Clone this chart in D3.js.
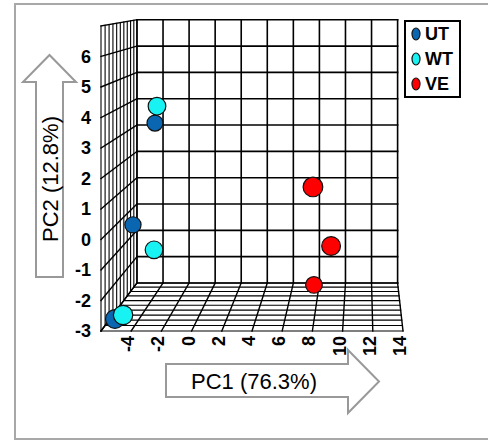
<!DOCTYPE html>
<html>
<head>
<meta charset="utf-8">
<script src="https://cdn.jsdelivr.net/npm/d3@7"></script>
<style>
  html, body { margin: 0; padding: 0; background: #fff; }
  svg { display: block; font-family: "Liberation Sans", Arial, sans-serif; }
</style>
</head>
<body>
<svg id="chart" width="488" height="441"></svg>
<script>
// PCA scores per sample
const sampleGroup = ["UT", "UT", "UT", "WT", "WT", "WT", "VE", "VE", "VE"];
const pc1Values = [-4.07, -5.58, -5.60, -3.16, -3.37, -4.79, 8.01, 9.17, 7.79];
const pc2Values = [3.26, -0.41, -2.96, 4.11, -0.90, -2.65, 1.67, -0.49, -2.44];
const pc3Values = [2.5, 2.0, -3.0, -1.0, -1.0, -4.0, -4.5, -3.0, 1.0];

const groups = ["UT", "WT", "VE"];
const groupColors = ["#0B66B2", "#19F2F2", "#FF0000"];

const pc1Domain = [-6, 14];
const pc2Domain = [-3, 7];
const pc3Domain = [-5, 5];
const pc1Ticks = [-4, -2, 0, 2, 4, 6, 8, 10, 12, 14];
const pc2Ticks = [-3, -2, -1, 0, 1, 2, 3, 4, 5, 6];
const pc1Grid = d3.range(-6, 14.01, 2);
const pc2Grid = d3.range(-3, 7.01, 1);
const pc3Grid = d3.range(-5, 5.01, 1);

const svg = d3.select("#chart");

// front face of the box, and the perspective towards the back face
const xFront = d3.scaleLinear().domain(pc1Domain).range([101, 403]);
const yFront = d3.scaleLinear().domain(pc2Domain).range([331, 26]);
const depth = d3.scaleLinear().domain(pc3Domain).range([0, 1]);
const vanish = [363.6, -19.5];
const recede = 0.1587;

function project(a, b, c) {
  const k = 1 / (1 + recede * depth(c));
  return [vanish[0] + (xFront(a) - vanish[0]) * k,
          vanish[1] + (yFront(b) - vanish[1]) * k, k];
}

// outer frame
svg.append("rect")
  .attr("x", 15).attr("y", 4).attr("width", 490).attr("height", 435)
  .attr("fill", "none").attr("stroke", "#A8A8A8").attr("stroke-width", 2);

const grid = svg.append("g").attr("fill", "none").attr("stroke", "#000")
  .attr("stroke-linecap", "square");
const line = d3.line();
function seg(p, q, w) {
  grid.append("path").attr("d", line([p.slice(0, 2), q.slice(0, 2)]))
    .attr("stroke-width", w);
}
const [x0, x1] = pc1Domain, [y0, y1] = pc2Domain, [z0, z1] = pc3Domain;

// back wall
pc1Grid.forEach(v => seg(project(v, y0, z1), project(v, y1, z1), 1.6));
pc2Grid.forEach(v => seg(project(x0, v, z1), project(x1, v, z1), 1.6));
// left wall
pc3Grid.forEach(v => seg(project(x0, y0, v), project(x0, y1, v), 1.1));
pc2Grid.forEach(v => seg(project(x0, v, z0), project(x0, v, z1), 1.4));
// floor
pc1Grid.forEach(v => seg(project(v, y0, z0), project(v, y0, z1), 1.4));
pc3Grid.forEach(v => seg(project(x0, y0, v), project(x1, y0, v), 1.2));

// tick labels
svg.append("g").selectAll("text").data(pc2Ticks).join("text")
  .attr("x", xFront(x0) - 10).attr("y", d => yFront(d))
  .attr("text-anchor", "end").attr("dominant-baseline", "central")
  .attr("font-size", 18).attr("font-weight", "bold")
  .text(d => d);

svg.append("g").selectAll("text").data(pc1Ticks).join("text")
  .attr("transform", d => `translate(${xFront(d) - 3},${yFront(y0) + 5}) rotate(-90)`)
  .attr("text-anchor", "end").attr("dominant-baseline", "central")
  .attr("font-size", 18).attr("font-weight", "bold")
  .text(d => d);

// samples, far ones first; markers shrink with depth
const samples = sampleGroup.map((g, i) => {
  const p = project(pc1Values[i], pc2Values[i], pc3Values[i]);
  return { g, x: p[0], y: p[1], k: p[2] };
}).sort((a, b) => a.k - b.k);

const color = d3.scaleOrdinal().domain(groups).range(groupColors);

svg.append("g").selectAll("circle").data(samples).join("circle")
  .attr("cx", d => d.x).attr("cy", d => d.y)
  .attr("r", d => 10 * d.k * d.k)
  .attr("fill", d => color(d.g))
  .attr("stroke", "#111").attr("stroke-width", 1.2);

// legend
const legend = svg.append("g");
legend.append("rect")
  .attr("x", 405).attr("y", 21).attr("width", 55).attr("height", 76)
  .attr("fill", "#fff").attr("stroke", "#000").attr("stroke-width", 2);
const entry = legend.selectAll("g").data(groups).join("g")
  .attr("transform", (d, i) => `translate(416,${34 + i * 25})`);
entry.append("ellipse")
  .attr("rx", 4).attr("ry", 6)
  .attr("fill", d => color(d)).attr("stroke", "#111").attr("stroke-width", 1.2);
entry.append("text")
  .attr("x", 9).attr("dominant-baseline", "central")
  .attr("font-size", 18).attr("font-weight", "bold")
  .text(d => d);

// axis title arrows
const arrowStyle = sel => sel.attr("fill", "#fff").attr("stroke", "#999")
  .attr("stroke-width", 2).attr("stroke-linejoin", "miter");

svg.append("path").call(arrowStyle)
  .attr("d", line([[36, 277], [36, 82], [23, 82], [49.5, 55], [76, 82], [63, 82], [63, 277]]) + "Z");
svg.append("text")
  .attr("transform", "translate(50,179) rotate(-90)")
  .attr("text-anchor", "middle").attr("dominant-baseline", "central")
  .attr("font-size", 22).text("PC2 (12.8%)");

svg.append("path").call(arrowStyle)
  .attr("d", line([[166, 364], [348, 364], [348, 350], [379, 381.5], [348, 413], [348, 397], [166, 397]]) + "Z");
svg.append("text")
  .attr("x", 254).attr("y", 381)
  .attr("text-anchor", "middle").attr("dominant-baseline", "central")
  .attr("font-size", 22).text("PC1 (76.3%)");
</script>
</body>
</html>
